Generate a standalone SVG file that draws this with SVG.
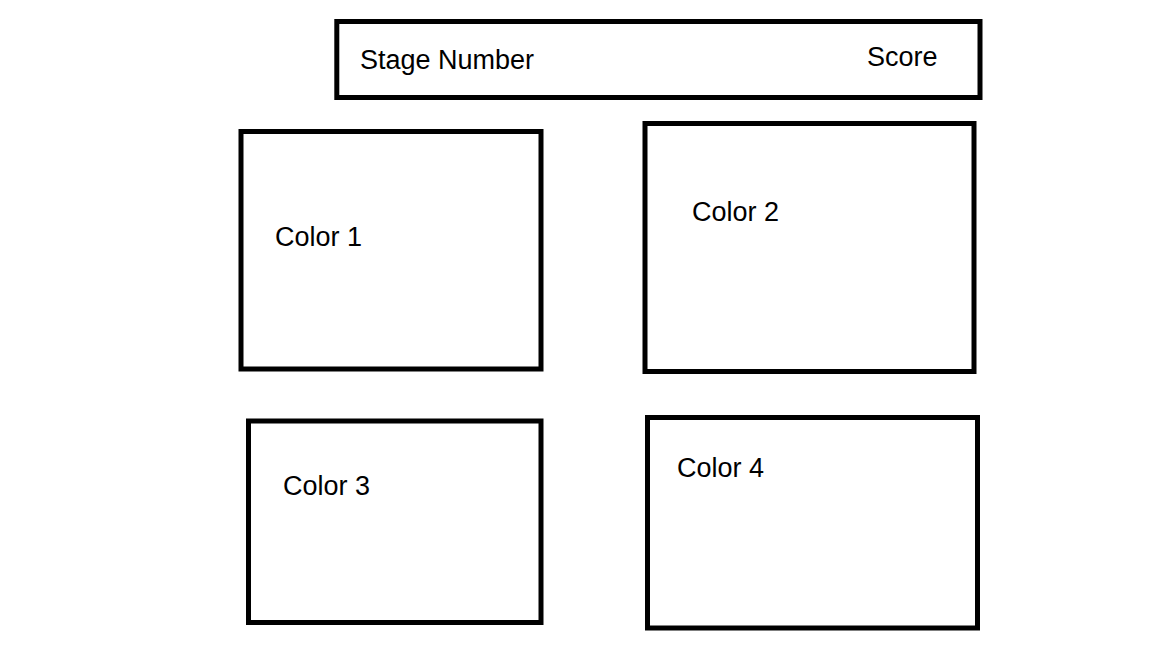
<svg xmlns="http://www.w3.org/2000/svg" width="1152" height="648" viewBox="0 0 1152 648">
<style>
.box{fill:#fff;stroke:#000;stroke-width:5}
.lbl{font-family:"Liberation Sans",Arial,sans-serif;font-size:27px;fill:#000}
</style>
<rect x="0" y="0" width="1152" height="648" fill="#fff"/>
<g id="header">
<rect class="box" x="336.8" y="21.5" width="643.2" height="76"/>
<text class="lbl" x="360" y="69">Stage Number</text>
<text class="lbl" x="867" y="66">Score</text>
</g>
<g id="color1">
<rect class="box" x="241" y="131.5" width="300" height="237.5"/>
<text class="lbl" x="275" y="246">Color 1</text>
</g>
<g id="color2">
<rect class="box" x="645" y="123.5" width="329" height="248"/>
<text class="lbl" x="692" y="221">Color 2</text>
</g>
<g id="color3">
<rect class="box" x="248.5" y="421" width="292.5" height="201.5"/>
<text class="lbl" x="283" y="495">Color 3</text>
</g>
<g id="color4">
<rect class="box" x="647.5" y="417.5" width="330" height="210.5"/>
<text class="lbl" x="677" y="477">Color 4</text>
</g>
<g id="connectors"></g>
</svg>
